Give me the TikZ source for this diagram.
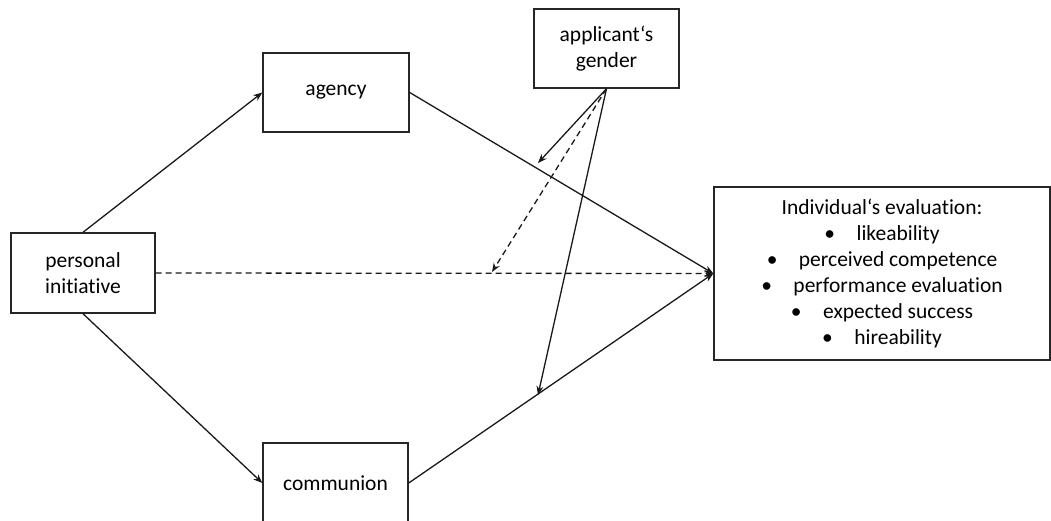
\documentclass[tikz,border=0pt]{standalone}
\usepackage{fontspec}
\setmainfont{Carlito}[Ligatures=NoCommon]
\usetikzlibrary{arrows.meta}
\begin{document}
\begin{tikzpicture}[x=1pt,y=-1pt,
  box/.style={draw=black!85,line width=1.4pt,align=center,inner sep=0pt,
    font=\fontsize{21.5}{26}\selectfont},
  conn/.style={line width=1.3pt,draw=black!90,-{Stealth[length=9pt,width=7pt]}},
  dconn/.style={conn,dash pattern=on 6pt off 4pt}]
\useasboundingbox (0,0) rectangle (1051,521);
\node[box,minimum width=144pt,minimum height=80pt] (pi) at (83,273) {personal\\initiative};
\node[box,minimum width=146pt,minimum height=79pt] (ag) at (336,92.5) {agency};
\node[box,minimum width=145pt,minimum height=80pt] (co) at (335.5,483) {communion};
\node[box,minimum width=145pt,minimum height=79pt] (ge) at (606.5,48.5) {applicant‘s\\gender};
\node[box,minimum width=336pt,minimum height=173pt] (ev) at (882,273.5) {Individual‘s evaluation:\\
  •\hspace{1.0em}likeability\\
  •\hspace{1.0em}perceived competence\\
  •\hspace{1.0em}performance evaluation\\
  •\hspace{1.0em}expected success\\
  •\hspace{1.0em}hireability};
\coordinate (m1) at (538,163);
\coordinate (m2) at (492,272);
\coordinate (m3) at (538,395);
\draw[conn] (pi.north) -- (ag.west);
\draw[conn] (pi.south) -- (co.west);
\draw[conn] (ag.east) -- (ev.west);
\draw[conn] (co.east) -- (ev.west);
\draw[dconn] (pi.east) -- (ev.west);
\draw[conn] (ge.south) -- (m1);
\draw[dconn] (ge.south) -- (m2);
\draw[conn] (ge.south) -- (m3);
\end{tikzpicture}
\end{document}
